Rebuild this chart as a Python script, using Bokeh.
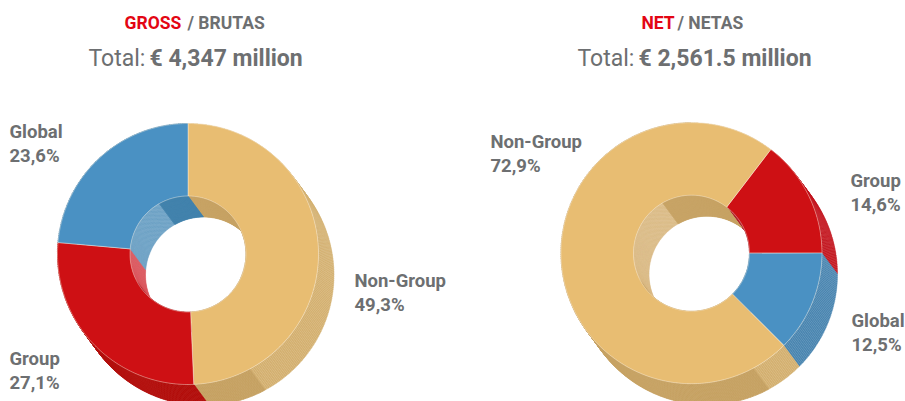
import math
from bokeh.plotting import figure
from bokeh.models import Range1d, ColumnDataSource
from bokeh.core.properties import value
from bokeh.embed import file_html
from bokeh.resources import INLINE

left_names = ["Non-Group", "Group", "Global"]
left_shares = [49.3, 27.1, 23.6]
left_start = 0.0
right_names = ["Group", "Global", "Non-Group"]
right_shares = [14.6, 12.5, 72.9]
right_start = 37.4
left_label_text = ["Non-Group", "49,3%", "Group", "27,1%", "Global", "23,6%"]
right_label_text = ["Non-Group", "72,9%", "Group", "14,6%", "Global", "12,5%"]

FACE = {"Non-Group": "#e8bd72", "Group": "#ce1014", "Global": "#4a91c3"}
OUT_DARK = {"Non-Group": "#c6a263", "Group": "#b30f0c", "Global": "#4583ac"}
OUT_LITE = {"Non-Group": "#d4b070", "Group": "#c2121a", "Global": "#4a86b0"}
IN_DARK = {"Non-Group": "#c6a263", "Group": "#b0222f", "Global": "#3f80ab"}
IN_LITE = {"Non-Group": "#d8b880", "Group": "#d9525a", "Global": "#659dc2"}

R, r, DX, DY = 130.5, 58.0, 15.5, 21.0
H = 401

p = figure(width=905, height=401, output_backend="svg", toolbar_location=None,
           x_range=Range1d(0, 905), y_range=Range1d(0, 401),
           min_border=0, outline_line_color=None, background_fill_color="white")
p.axis.visible = False
p.grid.visible = False


def pt(cx, cy, rad, a):
    t = math.radians(a)
    return cx + rad * math.sin(t), H - (cy - rad * math.cos(t))


def arc(cx, cy, rad, a, b, step=1.0):
    n = max(2, int(abs(b - a) / step) + 1)
    return [pt(cx, cy, rad, a + (b - a) * i / (n - 1)) for i in range(n)]


def sweep(cx, cy, rad, a, b):
    f = arc(cx, cy, rad, a, b, 0.25)
    k = arc(cx + DX, cy + DY, rad, a, b, 0.25)[::-1]
    pts = f + k
    return [q[0] for q in pts], [q[1] for q in pts]


def donut(cx, cy, names, shares, start):
    spans, a = [], start
    for nm, s in zip(names, shares):
        b = a + s * 3.6
        spans.append((nm, a, b))
        a = b
    xs, ys, cs, ws = [], [], [], []
    for nm, a, b in spans:          # outer side wall
        n = max(1, int((b - a) / 0.8))
        for i in range(n):
            u, v = a + (b - a) * i / n, a + (b - a) * (i + 1) / n
            m = ((u + v) / 2) % 360
            x, y = sweep(cx, cy, R, u, v)
            xs.append(x); ys.append(y)
            lite = m < 152
            cs.append(OUT_LITE[nm] if lite else OUT_DARK[nm])
            ws.append(0.3 if lite else 0.8)
    for nm, a, b in spans:          # inner side wall
        n = max(1, int((b - a) / 0.8))
        for i in range(n):
            u, v = a + (b - a) * i / n, a + (b - a) * (i + 1) / n
            m = ((u + v) / 2) % 360
            x, y = sweep(cx, cy, r, u, v)
            xs.append(x); ys.append(y)
            lite = 245 < m < 330
            cs.append(IN_LITE[nm] if lite else IN_DARK[nm])
            ws.append(0.3 if lite else 0.8)
    p.patches("x", "y", source=ColumnDataSource(dict(x=xs, y=ys, c=cs, w=ws)),
              fill_color="c", line_color="c", line_width="w")
    xs, ys, cs = [], [], []
    for nm, a, b in spans:          # front face
        o = arc(cx, cy, R, a, b, 0.5)
        i = arc(cx, cy, r, a, b, 0.5)[::-1]
        pts = o + i
        xs.append([q[0] for q in pts]); ys.append([q[1] for q in pts]); cs.append(FACE[nm])
    p.patches("x", "y", source=ColumnDataSource(dict(x=xs, y=ys, c=cs)),
              fill_color="c", line_color="#fff6e8", line_alpha=0.6, line_width=0.7)


donut(187.5, 253.5, left_names, left_shares, left_start)
donut(691.0, 252.7, right_names, right_shares, right_start)

GREY = "#6d6f71"
RED = "#e30613"
FONT = "Roboto"


def txt(x, py, s, size, color=GREY, style="bold"):
    p.text([x], [H - py], text=[s], text_font=value(FONT), text_font_size=f"{size}px",
           text_font_style=style, text_color=color, text_baseline="alphabetic", text_align="left")


txt(124, 29 - 7, "GROSS", 17.5, RED)
txt(187, 29 - 7, "/ BRUTAS", 17.5)
txt(88, 65 - 7, "Total:", 23, style="normal")
txt(149, 65 - 7, "€ 4,347 million", 23)
txt(641, 29 - 7, "NET", 17.5, RED)
txt(677, 29 - 7, "/ NETAS", 17.5)
txt(577, 65 - 7, "Total:", 23, style="normal")
txt(638, 65 - 7, "€ 2,561.5 million", 23)

left_pos = [(354, 280), (354, 304), (9, 358), (9, 382), (9, 131), (9, 155)]
right_pos = [(490, 141), (490, 165), (850, 180), (850, 204), (851, 320), (851, 344)]
for s, (x, y) in zip(left_label_text + right_label_text, left_pos + right_pos):
    txt(x, y, s, 18.5)

open("out.html", "w").write(file_html(p, INLINE))
